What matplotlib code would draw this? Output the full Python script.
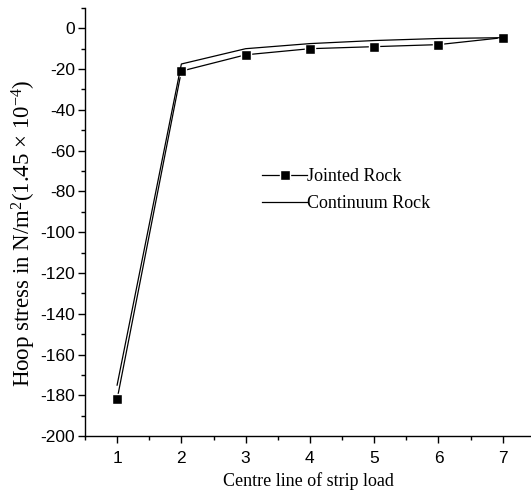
import matplotlib
matplotlib.use("Agg")
import matplotlib.pyplot as plt
from matplotlib.ticker import MultipleLocator

plt.rcParams["axes.unicode_minus"] = False
plt.rcParams["mathtext.fontset"] = "custom"
plt.rcParams["mathtext.rm"] = "Liberation Serif"
plt.rcParams["mathtext.it"] = "Liberation Serif:italic"

x = [1, 2, 3, 4, 5, 6, 7]
jointed = [-182, -21, -13, -10, -9, -8, -4.6]
continuum = [-175, -17.5, -10, -7.5, -6, -5, -4.6]
xticks = [1, 2, 3, 4, 5, 6, 7]
yticks = [0, -20, -40, -60, -80, -100, -120, -140, -160, -180, -200]

fig = plt.figure(figsize=(5.31, 4.95), dpi=100)
ax = fig.add_axes([0.160, 0.119, 0.840, 0.865])

ax.plot(x, jointed, color="black", lw=0.9, marker="s", ms=7,
        mfc="black", mec="white", mew=1.0, label="Jointed Rock")
ax.plot(x, continuum, color="black", lw=0.9, label="Continuum Rock")

ax.set_xlim(0.5, 7.44)
ax.set_ylim(-200, 10)
ax.set_xticks(xticks)
ax.set_yticks(yticks)
ax.xaxis.set_minor_locator(MultipleLocator(0.5))
ax.yaxis.set_minor_locator(MultipleLocator(10))
for s in ["top", "right"]:
    ax.spines[s].set_visible(False)
for s in ["left", "bottom"]:
    ax.spines[s].set_linewidth(1.0)
ax.tick_params(which="major", direction="out", length=5, width=1.0,
               labelsize=12.5)
ax.tick_params(axis="y", which="major", pad=2)
ax.tick_params(axis="x", which="major", pad=6)
ax.tick_params(which="minor", direction="out", length=3, width=1.0)
for lab in ax.get_xticklabels() + ax.get_yticklabels():
    lab.set_fontfamily("Liberation Sans")

ax.set_xlabel("Centre line of strip load", family="Liberation Serif",
              fontsize=13, labelpad=4)
ax.set_ylabel("Hoop stress in N/m$^2$(1.45 × 10$^{-4}$)",
              family="Liberation Serif", fontsize=16.5)
ax.yaxis.set_label_coords(-0.105, 0.474)

leg = ax.legend(loc="center left", bbox_to_anchor=(0.377, 0.575),
                frameon=False, handlelength=2.5, handletextpad=0.0,
                labelspacing=0.55, borderpad=0,
                prop={"family": "Liberation Serif", "size": 13})

fig.savefig("out.png", dpi=100)
